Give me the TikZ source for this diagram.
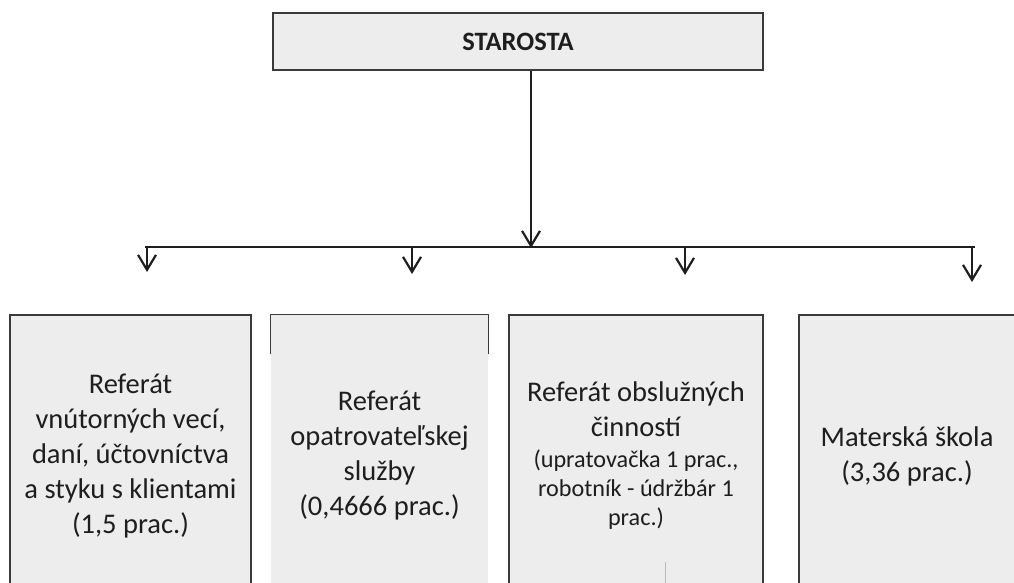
\documentclass[tikz,border=0pt]{standalone}
\usepackage{fontspec}
\setmainfont{Carlito}
\usepackage{tikz}
\usetikzlibrary{arrows.meta}
\definecolor{boxfill}{HTML}{EDEDED}
\definecolor{boxline}{HTML}{3A3A3A}
\definecolor{inkgray}{HTML}{1E1E1E}
\tikzstyle{headbox}=[rectangle, draw=boxline, fill=boxfill, line width=1.8pt, minimum width=490pt, minimum height=57pt, inner sep=0pt, text=inkgray, font=\fontsize{26.5}{30}\selectfont\bfseries]
\tikzstyle{unitbox}=[rectangle, draw=boxline, fill=boxfill, line width=1.2pt, minimum height=282pt, inner sep=0pt, align=center, text=inkgray, font=\fontsize{28.5}{35}\selectfont]
\providecommand{\unit}{\node[unitbox]}
\newcommand{\smalltext}{\fontsize{24.2}{29}\selectfont}

\begin{document}
\begin{tikzpicture}[x=1pt, y=-1pt,
    every edge/.style={draw=inkgray, line width=2.4pt, -{Straight Barb[length=15pt, width=18pt, line width=2.2pt]}}
]
\path[use as bounding box, clip] (0,0) rectangle (1014,583);
\fill[white] (0,0) rectangle (1014,583);

\node[headbox] (starosta) at (518,41.5) {STAROSTA};

\unit[minimum width=241pt] (ref1) at (130.5,456) {Referát\\ vnútorných vecí,\\ daní, účtovníctva\\ a styku s klientami\\ (1,5 prac.)};
\unit[minimum width=217pt, draw=none] (ref2) at (379.5,456) {Referát\\ opatrovateľskej\\ služby\\ (0,4666 prac.)};
\unit[minimum width=254pt] (ref3) at (636,456) {Referát obslužných\\ činností\\[-4pt] {\smalltext (upratovačka 1 prac.,}\\[-6pt] {\smalltext robotník - údržbár 1}\\[-6pt] {\smalltext prac.)}};
\unit[minimum width=216pt] (ms) at (907,456) {Materská škola\\ (3,36 prac.)};

% partial frame of the second box
\draw[boxline, line width=1.2pt] ([yshift=-40pt]ref2.north west) -- (ref2.north west) -- (ref2.north east) -- ([yshift=-40pt]ref2.north east);
\draw[brown!60, line width=0.6pt] (665,562) -- (665,583);

\coordinate (busL) at (145,247);
\coordinate (busR) at (975,247);
\coordinate (busC) at (531,248);
\coordinate (t1) at (147,272);
\coordinate (t2) at (412,274);
\coordinate (t3) at (685,275);
\coordinate (t4) at (972,282);

\draw[inkgray, line width=2.4pt] (busL) -- (busR);
\path
(starosta.south -| busC) edge (busC)
(t1 |- busL) edge (t1)
(t2 |- busL) edge (t2)
(t3 |- busL) edge (t3)
(t4 |- busL) edge (t4)
;
\end{tikzpicture}
\end{document}
